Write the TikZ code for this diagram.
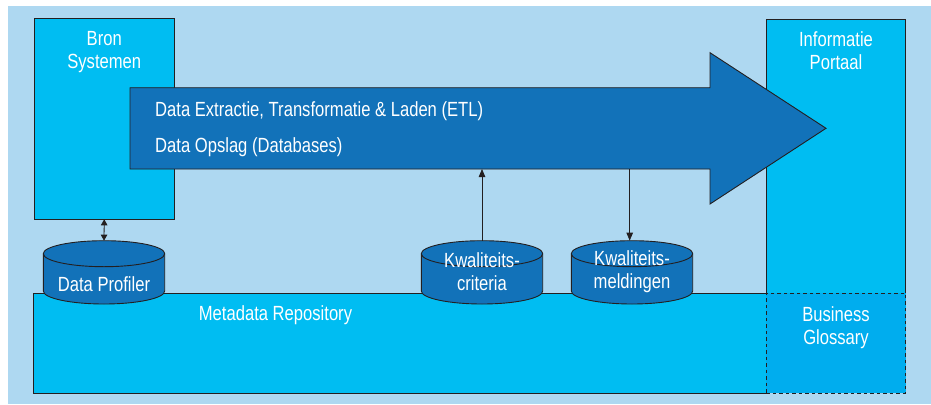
\documentclass[tikz,border=0pt]{standalone}
\usepackage{fontspec}
\setmainfont{Liberation Sans}[FakeStretch=0.81]
\usetikzlibrary{arrows.meta,calc}

\definecolor{bgblue}{HTML}{AED8F1}
\definecolor{cyanbox}{HTML}{00BDF2}
\definecolor{darkblue}{HTML}{1272B9}
\definecolor{glossblue}{HTML}{00ADEE}
\definecolor{edge}{HTML}{231F20}

\tikzset{
  lbl/.style={text=white, font=\fontsize{20.5}{23}\selectfont, align=center, inner sep=0pt},
  holder/.style={inner sep=0pt, outer sep=0pt, draw=none},
  edgeline/.style={draw=edge, line width=0.9pt},
  flow/.style={draw=edge, line width=0.8pt, -{Triangle[length=8pt,width=6.5pt]}},
  both/.style={draw=edge, line width=0.8pt, {Triangle[length=6pt,width=6.5pt]}-{Triangle[length=6pt,width=6.5pt]}},
}

% cylinder drawn from its centre x, top y, bottom y, half width, ellipse radius
\newcommand{\dbcyl}[5]{%
  \fill[darkblue] (#1-#4,#2+#5) -- (#1-#4,#3-#5) arc[start angle=180,end angle=360,x radius=#4,y radius=-#5]
     -- (#1+#4,#2+#5) arc[start angle=0,end angle=180,x radius=#4,y radius=-#5] -- cycle;
  \draw[edgeline] (#1-#4,#2+#5) -- (#1-#4,#3-#5) arc[start angle=180,end angle=360,x radius=#4,y radius=-#5]
     -- (#1+#4,#2+#5);
  \draw[edgeline] (#1,#2+#5) ellipse[x radius=#4,y radius=#5];
}

\begin{document}
\begin{tikzpicture}[x=1pt,y=-1pt]
\useasboundingbox (0,0) rectangle (931,404);
\fill[bgblue] (8,6) rectangle (931,404);

% source systems
\node[holder, minimum width=139.5, minimum height=200.6, anchor=north west, fill=cyanbox, edgeline] (bron) at (34.5,18.7) {};
\node[lbl, anchor=north] (bronlbl) at ($(bron.north)+(0,12)$) {Bron\\Systemen};

% information portal with glossary below
\node[holder, minimum width=139.4, minimum height=373.7, anchor=north west, fill=cyanbox] (portaal) at (766.3,19.3) {};
\draw[edgeline] (766.3,293.3) -- (portaal.north west) -- (portaal.north east) -- (905.7,293.3);
\node[lbl, anchor=north] (portaallbl) at ($(portaal.north)+(0,12)$) {Informatie\\Portaal};

% metadata repository
\node[holder, minimum width=733.3, minimum height=99.7, anchor=north west, fill=cyanbox] (repo) at (33,293.3) {};
\draw[edgeline] (repo.north east) -- (repo.north west) -- (repo.south west) -- (repo.south east);
\node[lbl] (repolbl) at (275.5,315) {Metadata Repository};

\node[holder, minimum width=139.4, minimum height=99.7, anchor=north west, fill=glossblue, draw=edge, line width=0.9pt, dashed, dash pattern=on 3.5pt off 3pt] (glossary) at (766.3,293.3) {};
\node[lbl] (glosslbl) at (836,328) {Business\\Glossary};

% big ETL arrow
\fill[darkblue] (130,87.7) -- (710,87.7) -- (710,52.7) -- (826,128.3) -- (710,204) -- (710,169) -- (130,169) -- cycle;
\draw[edgeline] (130,87.7) -- (710,87.7) -- (710,52.7) -- (826,128.3) -- (710,204) -- (710,169) -- (130,169) -- cycle;
\node[holder, minimum width=580, minimum height=81.3, anchor=north west] (etl) at (130,87.7) {};
\node[lbl, anchor=base west] (etl1) at (155,116) {Data Extractie, Transformatie \& Laden (ETL)};
\node[lbl, anchor=base west] (etl2) at (155,152.5) {Data Opslag (Databases)};

% databases
\dbcyl{104}{240.7}{304}{60.7}{13}
\node[holder, minimum width=121.4, minimum height=63.3] (profiler) at (104,272.3) {};
\node[lbl] (proflbl) at (104,284) {Data Profiler};

\dbcyl{482}{240.7}{304}{60.7}{13}
\node[holder, minimum width=121.4, minimum height=63.3] (criteria) at (482,272.3) {};
\node[lbl] (critlbl) at (482,272) {Kwaliteits-\\criteria};

\dbcyl{632}{240.7}{304}{60.7}{13}
\node[holder, minimum width=121.4, minimum height=63.3] (meldingen) at (632,272.3) {};
\node[lbl] (meldlbl) at (632,272) {Kwaliteits-\\meldingen};

% connectors
\draw[both] (bron.south) -- (profiler.north);
\draw[flow] (criteria.north) -- (criteria.north |- etl.south);
\draw[flow] ([xshift=-2.3pt]meldingen.north |- etl.south) -- ([xshift=-2.3pt]meldingen.north);
\end{tikzpicture}
\end{document}
